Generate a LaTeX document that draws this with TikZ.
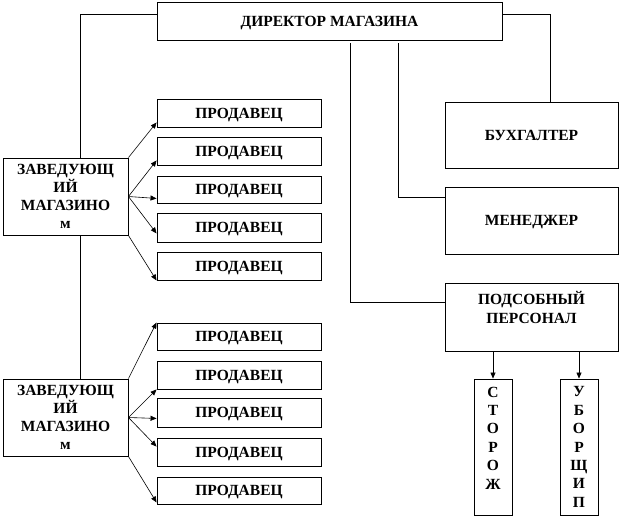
\documentclass[tikz,border=0pt]{standalone}
\usepackage{fontspec}
\setmainfont{Liberation Serif}
\usetikzlibrary{arrows.meta,calc}
\begin{document}
\begin{tikzpicture}[x=1pt,y=-1pt,
  box/.style={draw,line width=0.9pt,rectangle,inner sep=0pt,align=center,
    font=\fontsize{15.5}{18}\selectfont\bfseries},
  one/.style={text depth=0pt},
  conn/.style={line width=0.8pt},
  arr/.style={line width=0.6pt,-{Triangle[length=6pt,width=5pt]}},
  vtext/.style={inner sep=0pt,align=center,anchor=north,
    font=\fontsize{15.5}{18.4}\selectfont\bfseries}]
\useasboundingbox (0,0) rectangle (621,517);
% boxes: centre, size
\newcommand{\bx}[7][]{\node[box,#1,minimum width=#5,minimum height=#6] (#2) at (#3,#4) {#7};}
\bx[one]{dir}{329.5}{21}{345}{38}{ДИРЕКТОР МАГАЗИНА}
\bx{z1}{65.5}{196.5}{125}{77}{ЗАВЕДУЮЩ\\ИЙ\\МАГАЗИНО\\м}
\bx{z2}{65.5}{417.5}{125}{77}{ЗАВЕДУЮЩ\\ИЙ\\МАГАЗИНО\\м}
\bx[one]{p1}{239}{113}{164}{28}{ПРОДАВЕЦ}
\bx[one]{p2}{239}{151}{164}{28}{ПРОДАВЕЦ}
\bx[one]{p3}{239}{189.5}{164}{27}{ПРОДАВЕЦ}
\bx[one]{p4}{239}{227.5}{164}{29}{ПРОДАВЕЦ}
\bx[one]{p5}{239}{266}{164}{28}{ПРОДАВЕЦ}
\bx[one]{q1}{239}{336.5}{164}{27}{ПРОДАВЕЦ}
\bx[one]{q2}{239}{375}{164}{28}{ПРОДАВЕЦ}
\bx[one]{q3}{239}{412.5}{164}{29}{ПРОДАВЕЦ}
\bx[one]{q4}{239}{452}{164}{28}{ПРОДАВЕЦ}
\bx[one]{q5}{239}{490.5}{164}{27}{ПРОДАВЕЦ}
\bx[one]{buh}{531.5}{135}{173}{66}{БУХГАЛТЕР}
\bx[one]{men}{531.5}{220.5}{173}{67}{МЕНЕДЖЕР}
\bx{pod}{531.5}{317}{173}{68}{}
\node[vtext] (podt) at ([yshift=-9pt]pod.north) {ПОДСОБНЫЙ\\ПЕРСОНАЛ};
\bx{st}{493}{447}{38}{136}{}
\bx{ub}{579}{447}{38}{136}{}
\node[vtext] (stt) at ([yshift=-8pt]st.north) {С\\Т\\О\\Р\\О\\Ж};
\node[vtext] (ubt) at ([yshift=-8pt]ub.north) {У\\Б\\О\\Р\\Щ\\И\\П};
% connectors from director
\draw[conn] ([yshift=7pt]dir.west) -| ([xshift=15pt]z1.north);
\draw[conn] ([xshift=15pt]z1.south) -- ([xshift=15pt]z2.north);
\draw[conn] ([yshift=7pt]dir.east) -| ([xshift=19pt]buh.north);
\draw[conn] ([xshift=68.5pt,yshift=-3pt]dir.south) |- ([yshift=23pt]men.west);
\draw[conn] ([xshift=20.5pt,yshift=-3pt]dir.south) |- ([yshift=15pt]pod.west);
% arrows group 1
\draw[arr] (z1.north east) -- ([yshift=5pt]p1.south west);
\draw[arr] (z1.east) -- ([yshift=5pt]p2.south west);
\draw[arr] (z1.east) -- ([yshift=5pt]p3.south west);
\draw[arr] (z1.east) -- ([yshift=9pt]p4.south west);
\draw[arr] (z1.south east) -- (p5.south west);
% arrows group 2
\draw[arr] (z2.north east) -- (q1.north west);
\draw[arr] (z2.east) -- (q2.south west);
\draw[arr] (z2.east) -- ([yshift=9pt]q3.south west);
\draw[arr] (z2.east) -- ([yshift=-9pt]q4.north west);
\draw[arr] (z2.south east) -- ([yshift=2pt]q5.south west);
% support staff
\draw[arr] (st.north |- pod.south) -- (st.north);
\draw[arr] (ub.north |- pod.south) -- (ub.north);
\end{tikzpicture}
\end{document}
